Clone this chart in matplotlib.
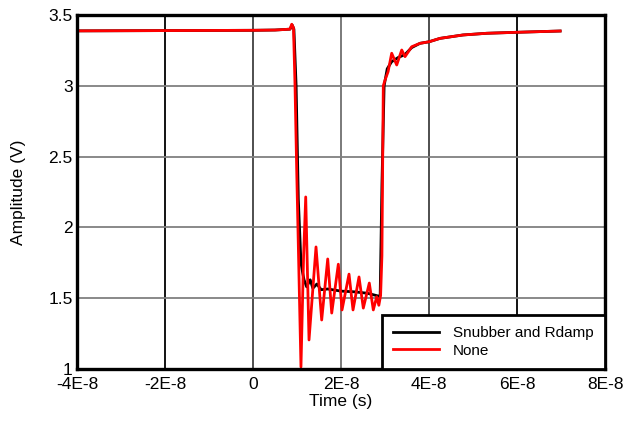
import matplotlib
matplotlib.use("Agg")
import matplotlib.pyplot as plt

plt.rcParams['font.family'] = ['Liberation Sans', 'DejaVu Sans']

# time in units of 1E-8 s, amplitude in V
t_snub = [-4.0, -3.0, -2.0, -1.0, 0.0, 0.5, 0.84, 0.89, 0.93, 0.98, 1.03, 1.09,
          1.13, 1.16, 1.22, 1.30, 1.36, 1.45, 1.55, 1.70, 2.0, 2.3, 2.6, 2.85,
          2.89, 2.93, 2.98, 3.05, 3.15, 3.30, 3.45, 3.607, 3.795, 4.0, 4.25,
          4.77, 5.31, 6.0, 6.98]
v_snub = [3.388, 3.389, 3.390, 3.391, 3.392, 3.394, 3.40, 3.43, 3.40, 3.0, 2.2,
          1.75, 1.676, 1.63, 1.58, 1.63, 1.57, 1.60, 1.56, 1.565, 1.55, 1.545,
          1.535, 1.515, 1.52, 2.3, 3.0, 3.12, 3.17, 3.20, 3.22, 3.27, 3.30,
          3.311, 3.335, 3.359, 3.371, 3.378, 3.387]

t_none = [-4.0, -3.0, -2.0, -1.0, 0.0, 0.5, 0.84, 0.88, 0.92, 0.955, 0.993, 1.09,
          1.15, 1.198, 1.273, 1.432, 1.561, 1.698, 1.789, 1.939, 2.023, 2.182,
          2.273, 2.409, 2.507, 2.643, 2.734, 2.811, 2.86, 2.90, 2.93, 2.961,
          3.0, 3.07, 3.152, 3.266, 3.38, 3.455, 3.607, 3.795, 4.0, 4.25, 4.77,
          5.31, 6.0, 6.98]
v_none = [3.388, 3.389, 3.390, 3.391, 3.392, 3.394, 3.40, 3.435, 3.41, 3.0, 2.405,
          1.014, 1.8, 2.215, 1.205, 1.862, 1.346, 1.777, 1.395, 1.74, 1.417,
          1.67, 1.417, 1.65, 1.43, 1.607, 1.417, 1.51, 1.45, 1.52, 1.8, 3.0,
          3.04, 3.10, 3.23, 3.147, 3.253, 3.206, 3.276, 3.30, 3.311, 3.335,
          3.359, 3.371, 3.378, 3.387]

x_ticks = [-4, -2, 0, 2, 4, 6, 8]
x_labels = ['-4E-8', '-2E-8', '0', '2E-8', '4E-8', '6E-8', '8E-8']
y_ticks = [1, 1.5, 2, 2.5, 3, 3.5]
y_labels = ['1', '1.5', '2', '2.5', '3', '3.5']

fig = plt.figure(figsize=(6.28, 4.23), dpi=100)
ax = fig.add_axes([0.1226, 0.1277, 0.8408, 0.8368])

ax.plot([t * 1e-8 for t in t_snub], v_snub, color='black', lw=2.0,
        label='Snubber and Rdamp')
ax.plot([t * 1e-8 for t in t_none], v_none, color='#ff0000', lw=2.0,
        label='None')

ax.set_xlim(-4e-8, 8e-8)
ax.set_ylim(1, 3.5)
ax.set_xticks([x * 1e-8 for x in x_ticks])
ax.set_xticklabels(x_labels)
ax.set_yticks(y_ticks)
ax.set_yticklabels(y_labels)
ax.tick_params(length=0, labelsize=12.5, pad=3)
ax.tick_params(axis='x', pad=6)
ax.grid(True, color='#808080', lw=1.3)
ax.set_axisbelow(True)
vcols = ['#808080', '#000000', '#404040', '#707070', '#404040', '#000000', '#808080']
for gl, c in zip(ax.get_xgridlines(), vcols):
    gl.set_color(c)
for s in ax.spines.values():
    s.set_linewidth(2.4)
    s.set_color('black')

ax.set_xlabel('Time (s)', fontsize=12.5, labelpad=1)
ax.set_ylabel('Amplitude (V)', fontsize=12.5, labelpad=16)

leg = ax.legend(loc='lower right', fontsize=11, fancybox=False, framealpha=1,
                borderaxespad=0, handlelength=3.0, borderpad=0.75,
                labelspacing=0.2, handletextpad=0.9)
leg.get_frame().set_edgecolor('black')
leg.get_frame().set_linewidth(2.0)

fig.savefig('out.png', dpi=100)
